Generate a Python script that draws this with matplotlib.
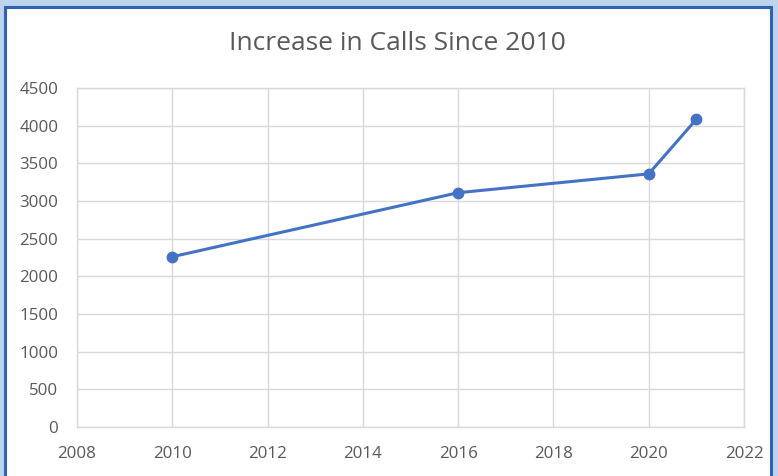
import matplotlib
matplotlib.use('Agg')
import matplotlib.pyplot as plt
from matplotlib.patches import Rectangle

plt.rcParams['font.family'] = ['Open Sans', 'DejaVu Sans']

# data
years = [2010, 2016, 2020, 2021]
calls = [2260, 3110, 3360, 4085]
x_ticks = [2008, 2010, 2012, 2014, 2016, 2018, 2020, 2022]
y_ticks = [0, 500, 1000, 1500, 2000, 2500, 3000, 3500, 4000, 4500]

W, H = 778, 476
fig = plt.figure(figsize=(W / 100, H / 100), dpi=100)
fig.patch.set_facecolor('#BDD3EE')

# white chart area with dark blue frame (bottom runs off the picture)
fig.patches.append(Rectangle((5 / W, -0.05), (771 - 5) / W, (H - 7) / H + 0.05,
                             transform=fig.transFigure, facecolor='white',
                             edgecolor='#2E62B4', linewidth=2.2, zorder=-10))

ax = fig.add_axes([77 / W, (H - 427) / H, (744 - 77) / W, (427 - 88) / H])
ax.set_facecolor('white')
ax.plot(years, calls, color='#4472C4', linewidth=2.2, marker='o', markersize=7.5,
        zorder=3, clip_on=False)

ax.set_xlim(2008, 2022)
ax.set_ylim(0, 4500)
ax.set_xticks(x_ticks)
ax.set_yticks(y_ticks)
ax.grid(True, color='#D9D9D9', linewidth=1.0)
ax.set_axisbelow(True)
for s in ax.spines.values():
    s.set_color('#D9D9D9')
    s.set_linewidth(1.0)
ax.tick_params(length=0, labelsize=12.2, colors='#595959')
ax.tick_params(axis='x', pad=13.5)
ax.tick_params(axis='y', pad=13.5)

fig.text(397 / W, 1 - 44 / H, 'Increase in Calls Since 2010', ha='center', va='center',
         fontsize=19, color='#595959')

fig.savefig('out.png', dpi=100, facecolor=fig.get_facecolor())
